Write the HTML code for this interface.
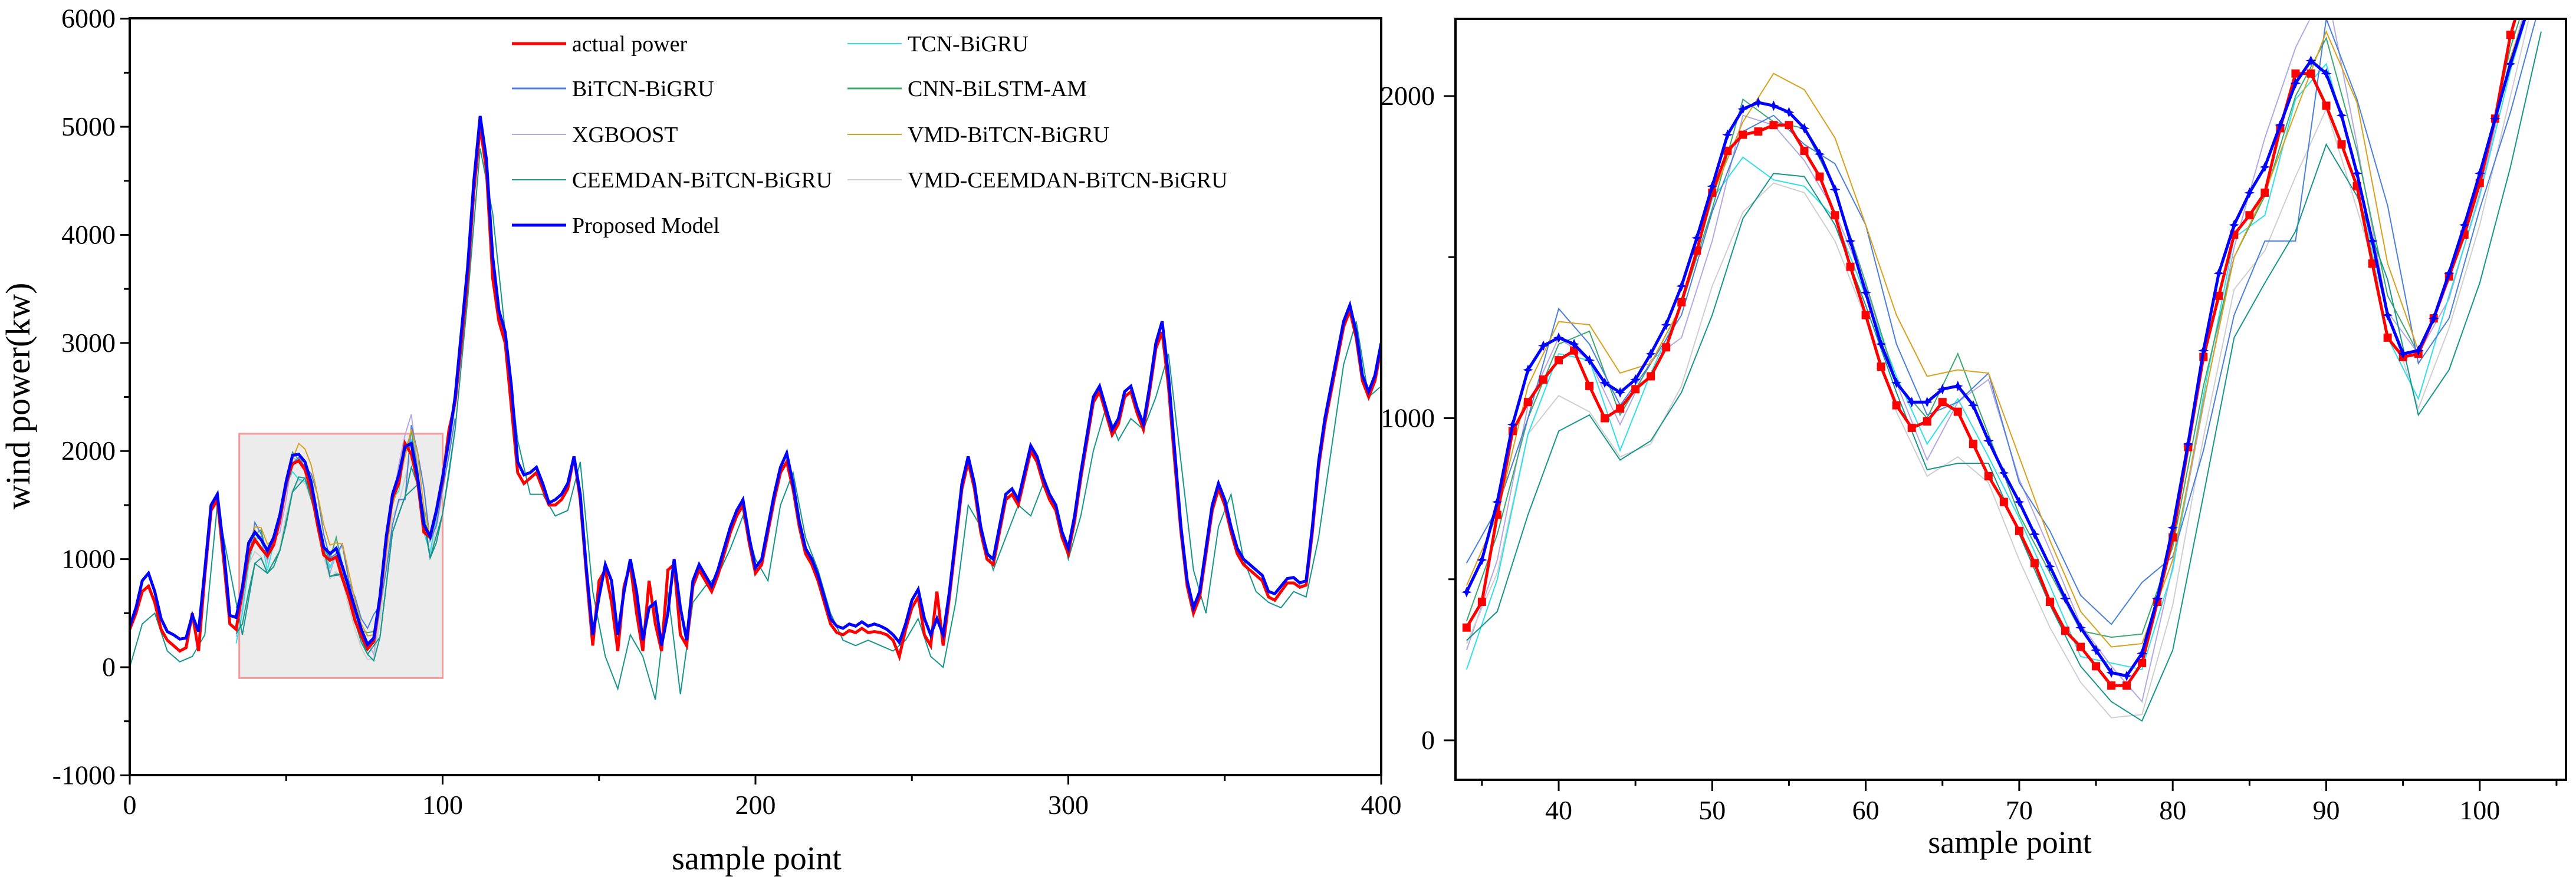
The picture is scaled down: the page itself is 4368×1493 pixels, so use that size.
<!DOCTYPE html>
<html><head><meta charset="utf-8"><style>
html,body{margin:0;padding:0;background:#fff;}
svg{display:block;font-family:"Liberation Serif",serif;}
</style></head><body>
<svg id="chart" width="4368" height="1493" viewBox="0 0 4368 1493" xmlns="http://www.w3.org/2000/svg">
<defs>
<clipPath id="clipL"><rect x="220" y="31" width="2122" height="1284"/></clipPath>
<clipPath id="clipR"><rect x="2468" y="32" width="1883" height="1291"/></clipPath>
</defs>
<g id="left"></g>
<g id="right"></g>
</svg>
<script>
// ---------- data ----------
const propL = [380,550,800,870,700,450,330,300,260,270,480,330,900,1500,1600,1100,480,
460,740,1150,1250,1180,1080,1200,1410,1720,1960,1970,1900,1710,1390,1110,1050,1100,930,740,540,350,210,270,660,1210,1600,1780,2040,2070,1760,1320,1210,1450,1760,2100,2500,
3100,3700,4500,5100,4700,3800,3300,3100,2600,1900,
1780,1800,1850,1700,1520,1550,1600,1700,1950,1600,
900,300,650,950,800,300,700,1000,700,250,
550,600,200,500,1000,550,250,800,950,850,
750,900,1100,1300,1450,1550,1200,920,1000,1300,
1600,1850,1980,1700,1350,1100,1000,850,650,450,
380,360,400,380,420,380,400,380,350,300,
230,400,620,720,450,300,450,300,700,1200,
1700,1950,1700,1300,1050,1000,1300,1600,1650,1550,
1800,2050,1950,1750,1600,1500,1250,1100,1400,1800,
2150,2500,2600,2400,2200,2300,2550,2600,2400,2250,
2600,3000,3200,2700,2000,1300,800,550,700,1100,
1500,1700,1550,1300,1100,1000,950,900,850,700,
680,750,820,830,780,800,1300,1900,2300,2600,
2900,3200,3350,3100,2700,2550,2700,3000];
const actualL = [350,500,700,750,600,350,250,200,150,180,500,150,850,1450,1550,1000,400,
350,700,1050,1180,1100,1030,1130,1360,1700,1880,1910,1830,1630,1320,1040,990,1020,820,650,430,290,170,240,630,1190,1570,1700,2070,1970,1720,1250,1200,1440,1730,2190,2450,
3000,3600,4400,5000,4600,3600,3200,3000,2400,1800,
1700,1750,1800,1650,1500,1500,1550,1650,1950,1550,
850,200,800,900,600,150,750,950,500,150,
800,400,150,900,950,300,200,750,900,800,
700,850,1050,1250,1400,1500,1150,870,950,1250,
1550,1800,1900,1650,1300,1050,950,800,600,400,
320,300,340,320,360,320,330,320,300,250,
100,350,550,650,300,200,700,200,650,1150,
1650,1900,1650,1250,1000,950,1250,1550,1600,1500,
1750,2000,1900,1700,1550,1450,1200,1050,1350,1750,
2100,2450,2550,2350,2150,2250,2500,2550,2350,2200,
2550,2950,3100,2600,1900,1250,750,500,650,1050,
1450,1650,1500,1250,1050,950,900,850,800,650,
620,700,780,780,740,760,1250,1850,2250,2550,
2850,3150,3300,3050,2650,2500,2650,2950];
const ceemdanL = [0,400,500,150,50,100,300,1500,900,300,960,870,1080,1620,1750,1350,840,860,420,120,280,1250,1580,1690,1010,1420,2200,3400,4800,4200,3100,2100,1600,1600,1400,1450,1900,700,100,-200,300,100,-300,700,-250,600,750,850,1100,1400,1000,800,1500,1800,1200,900,500,250,200,250,200,150,250,450,100,0,600,1500,1300,900,1200,1500,1400,1700,1500,1000,1400,2000,2400,2100,2300,2200,2500,2900,1900,900,500,1300,1600,1000,700,600,550,700,650,1200,2000,2800,3200,2500,2600];
const propZ = [460,560,740,980,1150,1225,1250,1230,1180,1110,1080,1120,1200,1290,1410,1560,1720,1880,1960,1980,1970,1950,1900,1820,1710,1550,1390,1230,1110,1050,1050,1090,1100,1040,930,830,740,640,540,440,350,280,210,200,270,440,660,920,1210,1450,1600,1700,1780,1910,2040,2110,2070,1940,1760,1550,1320,1200,1210,1310,1450,1600,1760,1930,2100,2250];
const actualZ = [350,430,700,960,1050,1120,1180,1210,1100,1000,1030,1090,1130,1220,1360,1520,1700,1830,1880,1890,1910,1910,1830,1750,1630,1470,1320,1160,1040,970,990,1050,1020,920,820,740,650,550,430,340,290,230,170,170,240,430,630,910,1190,1380,1570,1630,1700,1900,2070,2070,1970,1850,1720,1480,1250,1190,1200,1310,1440,1570,1730,1930,2190,2350];
const vmdBitcnZ = [480,700,1100,1300,1290,1140,1170,1350,1690,1920,2070,2020,1870,1600,1320,1130,1150,1140,880,620,400,290,300,560,1050,1500,1700,1950,2200,1980,1480,1210,1430,1720,2120,2400];
const ceemdanZ = [310,400,700,960,1010,870,930,1080,1320,1620,1760,1750,1600,1350,1080,840,860,860,640,420,230,120,60,280,760,1250,1420,1580,1850,1690,1430,1010,1150,1420,1780,2200];
const bitcnZ = [550,720,1000,1340,1230,1040,1170,1320,1640,1890,1940,1850,1790,1600,1230,1010,1050,1140,800,650,450,360,490,570,900,1320,1550,1550,2240,1990,1660,1170,1310,1650,1950,2300];
const tcnZ = [220,500,950,1200,1180,900,1140,1350,1680,1810,1740,1720,1620,1380,1130,920,1060,880,690,480,260,240,220,530,1070,1560,1630,1990,2100,1770,1250,1060,1380,1690,2080,2400];
const cnnZ = [370,640,1000,1230,1270,1010,1170,1350,1650,1990,1920,1900,1710,1420,1110,1000,1200,950,700,520,340,320,330,600,1100,1500,1690,2000,2180,1830,1380,1200,1430,1720,2150,2450];
const xgbZ = [280,560,1040,1250,1180,980,1180,1250,1550,1940,1910,1800,1640,1410,1110,870,1050,1120,810,590,360,230,120,540,1040,1530,1870,2150,2340,1850,1330,1200,1370,1700,2110,2450];
const vmdCeemdanZ = [300,520,950,1070,1020,880,920,1100,1410,1640,1730,1700,1550,1310,1020,820,880,800,560,350,180,70,80,420,940,1400,1520,1750,1960,1650,1330,1030,1280,1600,2000,2400];
const yTicksL = [-1000,0,1000,2000,3000,4000,5000,6000];
const xTicksL = [0,100,200,300,400];
const yTicksR = [0,1000,2000];
const xTicksR = [40,50,60,70,80,90,100];

const NS="http://www.w3.org/2000/svg";
function mk(tag,attrs,parent,text){const e=document.createElementNS(NS,tag);for(const k in attrs)e.setAttribute(k,attrs[k]);if(text!==undefined)e.textContent=text;parent.appendChild(e);return e;}
const xL=s=>220+s*(2122/400);
const yL=v=>1132-v*0.18338;
const xR=s=>2643+(s-40)*26.03;
const yR=v=>1256-v*0.5465;
const C={red:"#ff0000",blue:"#0000ff",tcn:"#30e0e8",bitcn:"#4a7fdc",cnn:"#3ca870",xgb:"#b4a8e4",vmdb:"#d8a01c",ceem:"#16968a",vmdc:"#cfcfcf"};
function pts(xs,ys,fx,fy){return ys.map((v,i)=>fx(xs(i)).toFixed(1)+","+fy(v).toFixed(1)).join(" ");}

const L=document.getElementById('left');
const box=mk('rect',{x:xL(35),y:yL(2160),width:xL(100)-xL(35),height:yL(-100)-yL(2160),fill:"#ececec",stroke:"#f59a9a","stroke-width":3},L);


const gl=mk('g',{"clip-path":"url(#clipL)"},L);


const zx=i=>34+2*i;
const thin=[[xgbZ,C.xgb,'xgboost'],[vmdCeemdanZ,C.vmdc,'vmd-ceemdan-bitcn-bigru'],[tcnZ,C.tcn,'tcn-bigru'],[cnnZ,C.cnn,'cnn-bilstm-am'],[bitcnZ,C.bitcn,'bitcn-bigru'],[vmdBitcnZ,C.vmdb,'vmd-bitcn-bigru'],[ceemdanZ,C.ceem,'ceemdan-bitcn-bigru']];
thin.forEach(t=>{const p=mk('polyline',{points:pts(zx,t[0],xL,yL),fill:"none",stroke:t[1],"stroke-width":2},gl);

});
const pc=mk('polyline',{points:pts(i=>4*i,ceemdanL,xL,yL),fill:"none",stroke:C.ceem,"stroke-width":2},gl);


const pa=mk('polyline',{points:pts(i=>2*i,actualL,xL,yL),fill:"none",stroke:C.red,"stroke-width":5},gl);


const pp=mk('polyline',{points:pts(i=>2*i,propL,xL,yL),fill:"none",stroke:C.blue,"stroke-width":5},gl);


const fL=mk('rect',{x:220,y:31,width:2122,height:1284,fill:"none",stroke:"#000","stroke-width":4},L);


yTicksL.forEach(v=>{mk('line',{x1:220,x2:204,y1:yL(v),y2:yL(v),stroke:"#000","stroke-width":3},L);
if(v<6000)mk('line',{x1:220,x2:210,y1:yL(v+500),y2:yL(v+500),stroke:"#000","stroke-width":3},L);
const t=mk('text',{x:196,y:yL(v)+15,"text-anchor":"end","font-size":46},L,String(v));

});
xTicksL.forEach(v=>{mk('line',{x1:xL(v),x2:xL(v),y1:1315,y2:1331,stroke:"#000","stroke-width":3},L);
if(v<400)mk('line',{x1:xL(v+50),x2:xL(v+50),y1:1315,y2:1325,stroke:"#000","stroke-width":3},L);
const t=mk('text',{x:xL(v),y:1381,"text-anchor":"middle","font-size":46},L,String(v));

});
const yt=mk('text',{x:0,y:0,"text-anchor":"middle","font-size":58,transform:"translate(50,672) rotate(-90)"},L,"wind power(kw)");


const xt=mk('text',{x:1283,y:1475,"text-anchor":"middle","font-size":56},L,"sample point");


const legend=[["actual power",C.red,5,0,0],["TCN-BiGRU",C.tcn,2,1,0],["BiTCN-BiGRU",C.bitcn,3,0,1],["CNN-BiLSTM-AM",C.cnn,3,1,1],["XGBOOST",C.xgb,2,0,2],["VMD-BiTCN-BiGRU",C.vmdb,2,1,2],["CEEMDAN-BiTCN-BiGRU",C.ceem,2,0,3],["VMD-CEEMDAN-BiTCN-BiGRU",C.vmdc,2,1,3],["Proposed Model",C.blue,5,0,4]];
const lg=mk('g',{},L);


legend.forEach(e=>{const x0=e[3]?1437:868, y0=[74,150,228,305,382][e[4]];
const g=mk('g',{},lg);


mk('line',{x1:x0,x2:x0+92,y1:y0,y2:y0,stroke:e[1],"stroke-width":e[2]},g);
mk('text',{x:x0+102,y:y0+13,"font-size":38},g,e[0]);});

const R=document.getElementById('right');
const gr=mk('g',{"clip-path":"url(#clipR)"},R);


thin.forEach(t=>{const p=mk('polyline',{points:pts(zx,t[0],xR,yR),fill:"none",stroke:t[1],"stroke-width":2},gr);

});
const ra=mk('polyline',{points:pts(i=>34+i,actualZ,xR,yR),fill:"none",stroke:C.red,"stroke-width":5},gr);


actualZ.forEach((v,i)=>{const m=mk('rect',{x:xR(34+i)-7,y:yR(v)-7,width:14,height:14,fill:C.red},gr);

});
const rp=mk('polyline',{points:pts(i=>34+i,propZ,xR,yR),fill:"none",stroke:C.blue,"stroke-width":5},gr);


propZ.forEach((v,i)=>{const cx=xR(34+i),cy=yR(v);
const m=mk('path',{d:`M${cx} ${cy-9}L${cx+3} ${cy-2}L${cx+9} ${cy}L${cx+3} ${cy+2}L${cx} ${cy+9}L${cx-3} ${cy+2}L${cx-9} ${cy}L${cx-3} ${cy-2}Z`,fill:C.blue},gr);

});
const fR=mk('rect',{x:2468,y:32,width:1883,height:1291,fill:"none",stroke:"#000","stroke-width":4},R);


yTicksR.forEach(v=>{mk('line',{x1:2468,x2:2448,y1:yR(v),y2:yR(v),stroke:"#000","stroke-width":3},R);
mk('line',{x1:2468,x2:2456,y1:yR(v+500),y2:yR(v+500),stroke:"#000","stroke-width":3},R);
const t=mk('text',{x:2433,y:yR(v)+15,"text-anchor":"end","font-size":46},R,String(v));

});
xTicksR.forEach(v=>{mk('line',{x1:xR(v),x2:xR(v),y1:1323,y2:1342,stroke:"#000","stroke-width":3},R);
mk('line',{x1:xR(v-5),x2:xR(v-5),y1:1323,y2:1333,stroke:"#000","stroke-width":3},R);
const t=mk('text',{x:xR(v),y:1390,"text-anchor":"middle","font-size":46},R,String(v));

});
mk('line',{x1:xR(105),x2:xR(105),y1:1323,y2:1333,stroke:"#000","stroke-width":3},R);
const xt2=mk('text',{x:3408,y:1447,"text-anchor":"middle","font-size":54},R,"sample point");


</script>
</body></html>
